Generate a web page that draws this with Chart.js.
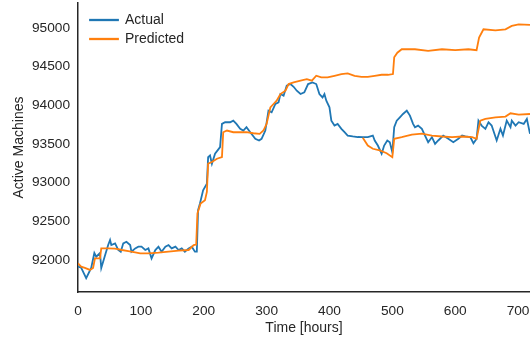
<!DOCTYPE html>
<html lang="en">
<head>
    <meta charset="UTF-8">
    <title>Active Machines - Actual vs Predicted</title>
    <script src="https://cdn.jsdelivr.net/npm/chart.js"></script>
    <style>
        html, body {
            margin: 0;
            padding: 0;
            background: #ffffff;
        }

        #chart {
            display: block;
        }
    </style>
</head>
<body>
    <canvas id="chart" width="530" height="342"></canvas>

    <script>
        // actual machines (hours / values)
        const actualHours = [0, 5, 13, 21, 26, 29, 35, 37, 40, 44, 48, 51, 53, 59, 64, 68, 72, 77, 83, 85, 91, 96, 101, 107, 112, 117, 123, 128, 133, 139, 144, 149, 155, 160, 165, 170, 176, 181, 186, 189, 191, 194, 199, 205, 207, 210, 213, 218, 226, 229, 234, 242, 247, 252, 258, 263, 268, 274, 282, 288, 292, 298, 303, 308, 314, 319, 322, 327, 332, 338, 343, 348, 354, 360, 366, 373, 379, 384, 389, 392, 395, 400, 403, 408, 413, 419, 424, 429, 437, 445, 453, 461, 469, 472, 477, 483, 487, 492, 496, 500, 503, 507, 512, 517, 523, 528, 533, 536, 541, 547, 552, 557, 563, 568, 573, 581, 589, 597, 605, 611, 616, 624, 629, 634, 637, 642, 648, 653, 658, 666, 672, 676, 682, 688, 690, 696, 701, 709, 714, 719];
        const actualValues = [91914, 91900, 91764, 91897, 92090, 92042, 92090, 91897, 91978, 92086, 92193, 92258, 92193, 92215, 92129, 92107, 92215, 92236, 92193, 92107, 92150, 92172, 92172, 92129, 92150, 92021, 92129, 92172, 92107, 92172, 92193, 92150, 92172, 92129, 92150, 92107, 92150, 92172, 92107, 92107, 92644, 92730, 92901, 92987, 93330, 93352, 93245, 93374, 93459, 93760, 93781, 93781, 93802, 93760, 93696, 93674, 93717, 93652, 93567, 93545, 93567, 93674, 93931, 93909, 94017, 94038, 94146, 94124, 94253, 94275, 94240, 94189, 94146, 94167, 94275, 94296, 94275, 94146, 94102, 94146, 94060, 93974, 93802, 93738, 93760, 93696, 93652, 93609, 93597, 93590, 93588, 93588, 93609, 93545, 93480, 93374, 93480, 93545, 93523, 93394, 93717, 93802, 93845, 93888, 93931, 93867, 93760, 93717, 93738, 93696, 93609, 93523, 93588, 93502, 93545, 93609, 93567, 93523, 93567, 93609, 93597, 93588, 93510, 93567, 93802, 93738, 93696, 93781, 93738, 93545, 93696, 93609, 93802, 93717, 93802, 93738, 93781, 93760, 93824, 93631];

        // predicted (full run)
        const predHours = [0, 5, 11, 19, 24, 27, 35, 37, 48, 59, 70, 80, 91, 99, 112, 128, 144, 160, 176, 184, 188, 190, 195, 202, 205, 207, 213, 221, 229, 231, 237, 247, 268, 279, 289, 295, 300, 306, 311, 316, 322, 330, 335, 343, 354, 364, 372, 379, 387, 397, 408, 419, 429, 440, 451, 461, 472, 483, 493, 501, 503, 508, 515, 536, 557, 579, 600, 621, 634, 638, 645, 664, 680, 690, 701, 719];
        const predValues = [91957, 91914, 91897, 91871, 91897, 92021, 92021, 92150, 92150, 92146, 92129, 92116, 92099, 92086, 92086, 92094, 92107, 92120, 92129, 92193, 92200, 92601, 92730, 92773, 92880, 93245, 93266, 93309, 93330, 93652, 93674, 93652, 93652, 93639, 93631, 93674, 93760, 93974, 94017, 94060, 94146, 94189, 94275, 94296, 94318, 94339, 94318, 94382, 94360, 94360, 94382, 94404, 94414, 94382, 94369, 94369, 94382, 94395, 94395, 94404, 94620, 94680, 94725, 94725, 94704, 94725, 94713, 94725, 94713, 94875, 94983, 94970, 94983, 95026, 95047, 95039];

        // predicted (second run, from hour 453)
        const pred2Hours = [453, 461, 469, 480, 491, 500, 503, 515, 531, 547, 563, 579, 595, 611, 627, 634, 640, 648, 664, 680, 688, 701, 719];
        const pred2Values = [93580, 93480, 93438, 93416, 93381, 93330, 93567, 93588, 93620, 93635, 93609, 93597, 93588, 93597, 93588, 93567, 93802, 93824, 93845, 93854, 93897, 93880, 93888];

        // tick labels
        const xTicks = [0, 100, 200, 300, 400, 500, 600, 700];
        const yTicks = [92000, 92500, 93000, 93500, 94000, 94500, 95000];

        const BLUE = "#1f77b4";
        const ORANGE = "#ff7f0e";
        const TEXT = "#262626";
        const FONT = "'Liberation Sans', Arial, sans-serif";

        function toPoints(hours, values) {
            return hours.map((h, i) => ({ x: h, y: values[i] }));
        }

        // legend sits inside the plot, top-left
        const legendOffset = {
            id: "legendOffset",
            beforeDraw(chart) {
                chart.legend.left = chart.chartArea.left + 7;
                chart.legend.top = chart.chartArea.top + 5;
            }
        };

        const ctx = document.getElementById("chart").getContext("2d");

        new Chart(ctx, {
            type: "line",
            data: {
                datasets: [
                    {
                        label: "Actual",
                        data: toPoints(actualHours, actualValues),
                        borderColor: BLUE,
                        backgroundColor: BLUE,
                        borderWidth: 1.8,
                        pointRadius: 0,
                        order: 3
                    },
                    {
                        label: "Predicted",
                        data: toPoints(predHours, predValues),
                        borderColor: ORANGE,
                        backgroundColor: ORANGE,
                        borderWidth: 1.8,
                        pointRadius: 0,
                        order: 1
                    },
                    {
                        label: "Predicted (2)",
                        data: toPoints(pred2Hours, pred2Values),
                        borderColor: ORANGE,
                        backgroundColor: ORANGE,
                        borderWidth: 1.8,
                        pointRadius: 0,
                        order: 2
                    }
                ]
            },
            options: {
                responsive: false,
                animation: false,
                devicePixelRatio: 1,
                layout: {
                    padding: { top: 3, right: 0, left: 0, bottom: 0 }
                },
                plugins: {
                    tooltip: { enabled: false },
                    legend: {
                        position: "chartArea",
                        align: "start",
                        labels: {
                            boxWidth: 28,
                            boxHeight: 0.5,
                            padding: 5,
                            color: TEXT,
                            font: { family: FONT, size: 14 },
                            filter: item => item.datasetIndex < 2,
                            sort: (a, b) => a.datasetIndex - b.datasetIndex
                        }
                    }
                },
                scales: {
                    x: {
                        type: "linear",
                        min: 0,
                        max: 719,
                        grid: { display: false },
                        border: { display: true, color: TEXT, width: 1.5 },
                        afterBuildTicks: scale => {
                            scale.ticks = xTicks.map(v => ({ value: v }));
                        },
                        ticks: {
                            padding: 3,
                            color: TEXT,
                            maxRotation: 0,
                            autoSkip: false,
                            font: { family: FONT, size: 13.7 },
                            callback: v => String(v)
                        },
                        title: {
                            display: true,
                            text: "Time [hours]",
                            color: TEXT,
                            padding: { top: 0, bottom: 5 },
                            font: { family: FONT, size: 14 }
                        },
                        afterFit: scale => {
                            scale.height = 50;
                            scale.paddingLeft = 0;
                            scale.paddingRight = 0;
                        }
                    },
                    y: {
                        type: "linear",
                        min: 91586,
                        max: 95323,
                        grid: { display: false },
                        border: { display: true, color: TEXT, width: 1.5 },
                        afterBuildTicks: scale => {
                            scale.ticks = yTicks.map(v => ({ value: v }));
                        },
                        ticks: {
                            padding: 0,
                            color: TEXT,
                            autoSkip: false,
                            font: { family: FONT, size: 13.7 },
                            callback: v => String(v)
                        },
                        title: {
                            display: true,
                            text: "Active Machines",
                            color: TEXT,
                            padding: { top: 11, bottom: 0 },
                            font: { family: FONT, size: 14 }
                        },
                        afterFit: scale => {
                            scale.width = 78;
                            scale.paddingTop = 0;
                            scale.paddingBottom = 0;
                        }
                    }
                }
            },
            plugins: [legendOffset]
        });
    </script>
</body>
</html>
